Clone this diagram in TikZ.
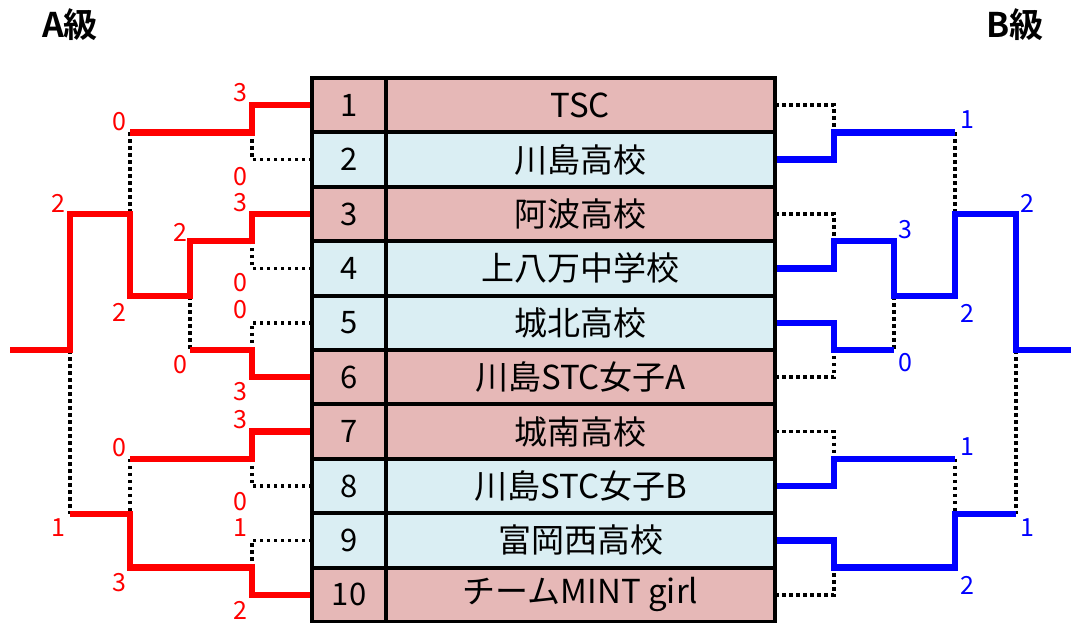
\documentclass[tikz,border=0pt]{standalone}
\usepackage{fontspec}
\setmainfont{Noto Sans CJK JP}[BoldFont={Noto Sans CJK JP Bold}]
\usetikzlibrary{positioning,backgrounds}
\definecolor{rowpink}{HTML}{E6B8B7}
\definecolor{rowblue}{HTML}{DAEEF3}
\tikzset{
    numcell/.style={draw,line width=4pt,outer sep=0pt,inner sep=0pt,minimum width=74pt,minimum height=54.4pt,font=\fontsize{31}{31}\selectfont},
    teamcell/.style={draw,line width=4pt,outer sep=0pt,inner sep=0pt,minimum width=389pt,minimum height=54.4pt,font=\fontsize{33}{33}\selectfont},
    redline/.style={draw=red,line width=6.5pt},
    blueline/.style={draw=blue,line width=6.5pt},
    dotline/.style={draw,line width=3.5pt,dash pattern=on 3.5pt off 3.5pt},
    redscore/.style={text=red,inner sep=0pt,font=\fontsize{25}{25}\selectfont},
    bluescore/.style={text=blue,inner sep=0pt,font=\fontsize{25}{25}\selectfont},
    classtitle/.style={inner sep=0pt,font=\fontsize{34}{34}\selectfont\bfseries},
}

\begin{document}
\begin{tikzpicture}[x=1pt,y=-1pt]
    \useasboundingbox (0,0) rectangle (1071,622);
    \node [classtitle] (titleA) at (70,25) {A級};
    \node [classtitle] (titleB) at (1015,25) {B級};

    % table
    \foreach \i/\team/\col in {1/TSC/rowpink, 2/川島高校/rowblue, 3/阿波高校/rowpink,
        4/上八万中学校/rowblue, 5/城北高校/rowblue, 6/川島STC女子A/rowpink,
        7/城南高校/rowpink, 8/川島STC女子B/rowblue, 9/富岡西高校/rowblue,
        10/チームMINT girl/rowpink} {
        \node [numcell,fill=\col] (n\i) at (349,{78+54.4*(\i-0.5)}) {\i};
        \node [teamcell,fill=\col,right=0pt of n\i] (t\i) {\team};
    }

    % junction points
    \coordinate (a12) at (252,132.4);
    \coordinate (a34) at (252,241.2);
    \coordinate (a56) at (252,350);
    \coordinate (a78) at (252,458.8);
    \coordinate (a910) at (252,567.6);
    \coordinate (b12) at (834,132.4);
    \coordinate (b34) at (834,241.2);
    \coordinate (b56) at (834,350);
    \coordinate (b78) at (834,458.8);
    \coordinate (b910) at (834,567.6);

    \begin{scope}[on background layer]
    % A bracket
    \path [dotline] (n2.west) -| (a12);
    \path [dotline] (n4.west) -| (a34);
    \path [dotline] (n5.west) -| (a56);
    \path [dotline] (n8.west) -| (a78);
    \path [dotline] (n9.west) -| (a910);
    \path [dotline] (130,132.4) -- (130,214);
    \path [dotline] (190,296) -- (190,350);
    \path [dotline] (130,458.8) -- (130,514);
    \path [dotline] (70,350) -- (70,514);
    \path [redline] (n1.west) -| (a12) -- (130,132.4);
    \path [redline] (n3.west) -| (a34) -- (190,241.2) -- (190,296) -- (130,296)
        -- (130,214) -- (70,214) -- (70,350) -- (10,350);
    \path [redline] (n6.west) -| (a56) -- (190,350);
    \path [redline] (n7.west) -| (a78) -- (130,458.8);
    \path [redline] (n10.west) -| (a910) -- (130,567.6) -- (130,514) -- (70,514);

    % B bracket
    \path [dotline] (t1.east) -| (b12);
    \path [dotline] (t3.east) -| (b34);
    \path [dotline] (t6.east) -| (b56);
    \path [dotline] (t7.east) -| (b78);
    \path [dotline] (t10.east) -| (b910);
    \path [dotline] (955,132.4) -- (955,214);
    \path [dotline] (894,296) -- (894,350);
    \path [dotline] (955,458.8) -- (955,514);
    \path [dotline] (1016,350) -- (1016,514);
    \path [blueline] (t2.east) -| (b12) -- (955,132.4);
    \path [blueline] (t4.east) -| (b34) -- (894,241.2) -- (894,296) -- (955,296)
        -- (955,214) -- (1016,214) -- (1016,350) -- (1071,350);
    \path [blueline] (t5.east) -| (b56) -- (894,350);
    \path [blueline] (t8.east) -| (b78) -- (955,458.8);
    \path [blueline] (t9.east) -| (b910) -- (955,567.6) -- (955,514) -- (1016,514);
    \end{scope}

    % scores
    \foreach \s/\x/\y [count=\k] in {3/240/93, 0/119/122, 0/240/177, 3/240/203,
        2/58/203, 2/180/232, 0/240/283, 2/119/312, 0/240/310, 0/180/365,
        3/240/392, 3/240/420, 0/119/448, 0/240/502, 1/58/528, 1/240/528,
        3/119/583, 2/240/610}
        \node [redscore] (sa\k) at (\x,\y) {\s};
    \foreach \s/\x/\y [count=\k] in {1/967/120, 2/1027/203, 3/905/230, 2/967/313,
        0/905/363, 1/967/447, 1/1027/528, 2/967/585}
        \node [bluescore] (sb\k) at (\x,\y) {\s};
\end{tikzpicture}
\end{document}
